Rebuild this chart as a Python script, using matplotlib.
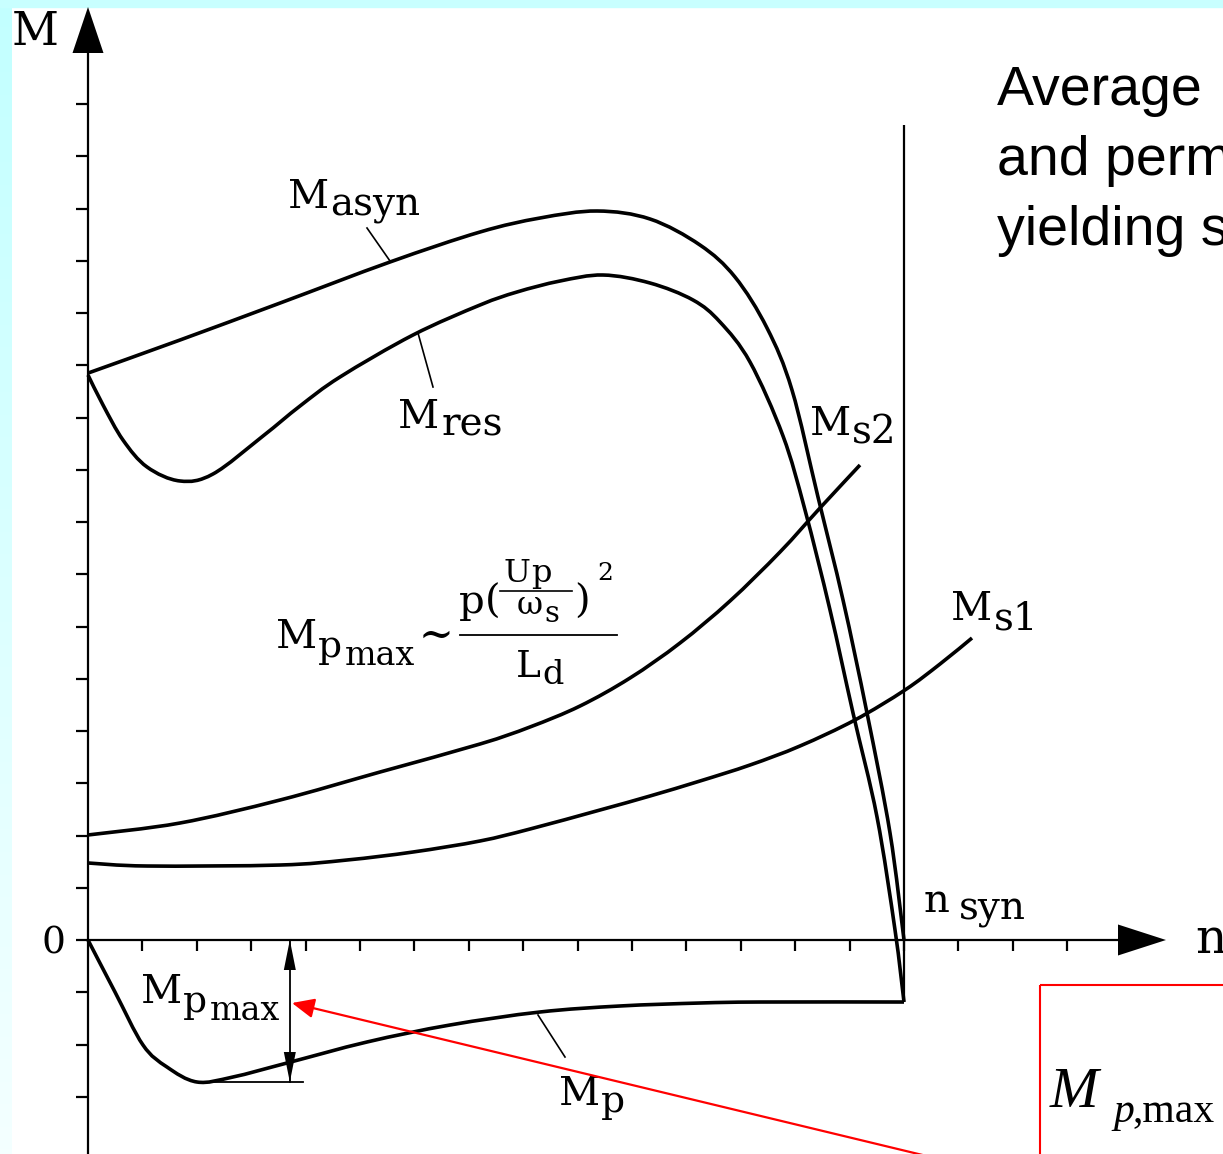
import numpy as np
import matplotlib
matplotlib.use('Agg')
import matplotlib.pyplot as plt
from matplotlib.patches import Rectangle, PathPatch
from matplotlib.path import Path
from matplotlib.colors import LinearSegmentedColormap

# ---------------- data (chart units: n and M in axis-tick steps) ----------------
n_syn = 15.0

n_asyn = [0.0, 1.691, 3.529, 5.551, 7.206, 8.309, 9.357, 10.331, 11.25, 11.893,
          12.482, 12.941, 13.419, 13.879, 14.320, 14.743, 15.0]
M_asyn = [10.85, 11.483, 12.19, 12.976, 13.55, 13.818, 13.952, 13.799, 13.301,
          12.689, 11.713, 10.526, 8.478, 6.507, 4.344, 2.048, 0.0]

n_res = [0.0, 0.276, 0.643, 1.085, 1.691, 2.298, 3.217, 3.897, 4.632, 5.974,
         7.206, 7.886, 8.676, 9.467, 10.331, 11.121, 11.618, 12.169,
         12.776, 13.180, 13.640, 14.063, 14.504, 14.835, 15.0]
M_res = [10.813, 10.239, 9.569, 9.053, 8.785, 8.919, 9.646, 10.220, 10.775,
         11.579, 12.153, 12.402, 12.612, 12.727, 12.574, 12.249, 11.828, 11.062,
         9.646, 8.230, 6.316, 4.344, 2.354, 0.191, -1.187]

n_s2 = [0.0, 1.691, 3.529, 5.368, 7.206, 8.125, 9.044, 9.963, 10.882, 11.801,
        12.721, 13.456, 14.191]
M_s2 = [2.010, 2.239, 2.679, 3.215, 3.751, 4.077, 4.478, 5.014, 5.684, 6.488,
        7.426, 8.268, 9.091]

n_s1 = [0.0, 1.085, 3.529, 4.761, 5.974, 7.206, 8.125, 9.412, 10.331, 11.25,
        12.169, 13.088, 14.099, 15.018, 15.662, 16.25]
M_s1 = [1.474, 1.416, 1.435, 1.531, 1.684, 1.895, 2.124, 2.488, 2.756, 3.043,
        3.349, 3.713, 4.211, 4.785, 5.282, 5.780]

n_p = [0.0, 0.496, 1.011, 1.452, 2.004, 2.665, 3.658, 5.129, 6.654, 8.309,
       9.779, 11.25, 12.353, 15.0]
M_p = [0.0, -0.995, -2.010, -2.431, -2.718, -2.622, -2.354, -1.952, -1.627,
       -1.378, -1.263, -1.206, -1.187, -1.187]

n_pmax_marker = 3.71          # where the Mp_max dimension arrow is drawn
x_ticks = list(range(1, 19))
y_ticks = list(range(-3, 17))
y_top = 15.6                  # top of the n_syn vertical line

# ---------------- layout: pixel <-> data mapping ----------------
W, H = 1223, 1154
X0, Y0, SX, SY = 88.0, 940.0, 54.4, 52.25


def P(px, py):
    return ((px - X0) / SX, (Y0 - py) / SY)


def dx(px):
    return px / SX


def dy(py):
    return py / SY


fig = plt.figure(figsize=(W / 100, H / 100), dpi=100, facecolor='white')

# light cyan slide border (top strip + left gradient strip)
gax = fig.add_axes([0, 0, 12 / W, 1], zorder=0)
grad = np.linspace(0, 1, 256).reshape(-1, 1)
cmap = LinearSegmentedColormap.from_list('c', ['#c2ffff', '#f4ffff'])
gax.imshow(grad, aspect='auto', cmap=cmap, extent=[0, 1, 0, 1], origin='upper')
gax.axis('off')
fig.patches.append(Rectangle((0, 1 - 7 / H), 1, 7 / H, transform=fig.transFigure,
                             color='#c8ffff', zorder=0))

ax = fig.add_axes([0, 0, 1, 1], zorder=1)
ax.patch.set_alpha(0)
ax.set_xlim(P(0, 0)[0], P(W, 0)[0])
ax.set_ylim(P(0, H)[1], P(0, 0)[1])
ax.axis('off')

K = 'black'
LW_C = 2.6
LW_A = 1.6


def smooth_curve(xs, ys, lw=LW_C):
    """Draw a smooth curve through the given points (cubic Bezier segments)."""
    pts = np.column_stack([xs, ys]).astype(float)
    n = len(pts)
    verts = [pts[0]]
    codes = [Path.MOVETO]
    for i in range(n - 1):
        p_prev = pts[i - 1] if i > 0 else pts[i]
        p_next2 = pts[i + 2] if i + 2 < n else pts[i + 1]
        c1 = pts[i] + (pts[i + 1] - p_prev) / 6.0
        c2 = pts[i + 1] - (p_next2 - pts[i]) / 6.0
        verts += [c1, c2, pts[i + 1]]
        codes += [Path.CURVE4] * 3
    ax.add_patch(PathPatch(Path(verts, codes), fill=False, edgecolor=K, lw=lw,
                           joinstyle='round', capstyle='butt'))


# axes lines
ax.plot([0, 0], [P(0, H + 5)[1], P(0, 50)[1]], color=K, lw=LW_A, solid_capstyle='butt')
ax.plot([0, P(1120, 0)[0]], [0, 0], color=K, lw=LW_A, solid_capstyle='butt')
# arrowheads of axes
ax.fill([-dx(15.5), dx(15.5), 0], [P(0, 53)[1]] * 2 + [P(0, 7)[1]], color=K, lw=0)
ax.fill([P(1118, 0)[0]] * 2 + [P(1166, 0)[0]], [dy(15.5), -dy(15.5), 0], color=K, lw=0)

# ticks
for t in y_ticks:
    ax.plot([-dx(12), 0], [t, t], color=K, lw=LW_A, solid_capstyle='butt')
for t in x_ticks:
    ax.plot([t, t], [0, -dy(11)], color=K, lw=LW_A, solid_capstyle='butt')

# curves
for xs, ys in [(n_asyn, M_asyn), (n_res, M_res), (n_s2, M_s2), (n_s1, M_s1), (n_p, M_p)]:
    smooth_curve(xs, ys)

# n_syn vertical line
ax.plot([n_syn, n_syn], [M_p[-1], y_top], color=K, lw=LW_A, solid_capstyle='butt')

# Mp_max dimension arrow
pmin = min(M_p)
ax.plot([n_pmax_marker, n_pmax_marker], [0, pmin], color=K, lw=1.3)
ax.fill([n_pmax_marker - dx(6), n_pmax_marker + dx(6), n_pmax_marker],
        [-dy(30), -dy(30), 0], color=K, lw=0)
ax.fill([n_pmax_marker - dx(6), n_pmax_marker + dx(6), n_pmax_marker],
        [pmin + dy(30), pmin + dy(30), pmin], color=K, lw=0)
ax.plot([n_p[int(np.argmin(M_p))], n_pmax_marker + dx(13)], [pmin, pmin], color=K, lw=1.3)

# leader lines
for (a, b) in [((367, 228), (390, 261)), ((418, 333), (433, 387)), ((538, 1015), (565, 1057))]:
    pa, pb = P(*a), P(*b)
    ax.plot([pa[0], pb[0]], [pa[1], pb[1]], color=K, lw=1.2)

# ---------------- text ----------------
SERIF = 'DejaVu Serif'
renderer = fig.canvas.get_renderer()


def T(px, py, s, size, ha='left', va='baseline', **kw):
    kw.setdefault('family', SERIF)
    color = kw.pop('color', K)
    return ax.text(*P(px, py), s, fontsize=size, ha=ha, va=va, color=color, **kw)


def chain(px, parts):
    """parts: list of (text, baseline_y_px, size, gap_px); each part is placed
    right after the previous one."""
    x = px
    for k, (s, by, size, gap) in enumerate(parts):
        if k > 0:
            x += gap
        t = T(x, by, s, size)
        x = t.get_window_extent(renderer).x1


T(12, 45, 'M', 33)
T(53, 943, '0', 27, ha='center', va='center')
T(1195, 953, 'n', 35)

chain(288, [('M', 208, 29, 0), ('asyn', 215, 28, 1)])
chain(398, [('M', 428, 29, 0), ('res', 435, 28, 2)])
chain(810, [('M', 435, 29, 0), ('s2', 443, 28, 1)])
chain(951, [('M', 620, 29, 0), ('s1', 629, 28, 2)])
chain(924, [('n', 912, 29, 0), ('syn', 920, 28, 9)])
chain(559, [('M', 1105, 29, 0), ('p', 1112, 27, 1)])
chain(141, [('M', 1003, 29, 0), ('p', 1012, 27, 1), ('max', 1020, 24, 3)])

# formula  Mpmax ~ p(Up/ws)^2 / Ld
chain(276, [('M', 648, 29, 0), ('p', 657, 27, 1), ('max', 665, 24, 3)])
T(419, 636, '~', 30, va='center')
chain(459, [('p', 613, 29, 0), ('(', 613, 29, 0)])
chain(503, [('U', 582, 23, 0), ('p', 582, 23, 1)])
lp = P(500, 591), P(572, 591)
ax.plot([lp[0][0], lp[1][0]], [lp[0][1], lp[1][1]], color=K, lw=1.2)
chain(517, [('ω', 614, 23, 0), ('s', 622, 21, 1)])
T(574, 613, ')', 29)
T(597, 580, '2', 18)
lm = P(460, 635), P(617, 635)
ax.plot([lm[0][0], lm[1][0]], [lm[0][1], lm[1][1]], color=K, lw=1.3)
chain(516, [('L', 677, 27, 0), ('d', 684, 24, 1)])

# slide text (cut off at the right edge, as on the slide)
for i, line in enumerate(['Average', 'and perm', 'yielding s']):
    T(997, 105 + 70 * i, line, 40, family='Liberation Sans')

# red box and red arrow
r0 = P(1040, 985)
ax.add_patch(Rectangle(r0, dx(300), -dy(300), fill=False, edgecolor='#ff0000', lw=1.5))
T(1050, 1107, 'M', 42, family='Liberation Serif', style='italic')
T(1113, 1122, 'p', 30, family='Liberation Serif', style='italic')
T(1132, 1122, ',max', 30, family='Liberation Serif')

ax.annotate('', xy=P(292, 1003), xytext=P(935, 1158),
            arrowprops=dict(arrowstyle='-|>,head_length=0.9,head_width=0.4',
                            color='#ff0000', lw=1.6, mutation_scale=15,
                            shrinkA=0, shrinkB=0))

fig.savefig('out.png', dpi=100, facecolor='white')
